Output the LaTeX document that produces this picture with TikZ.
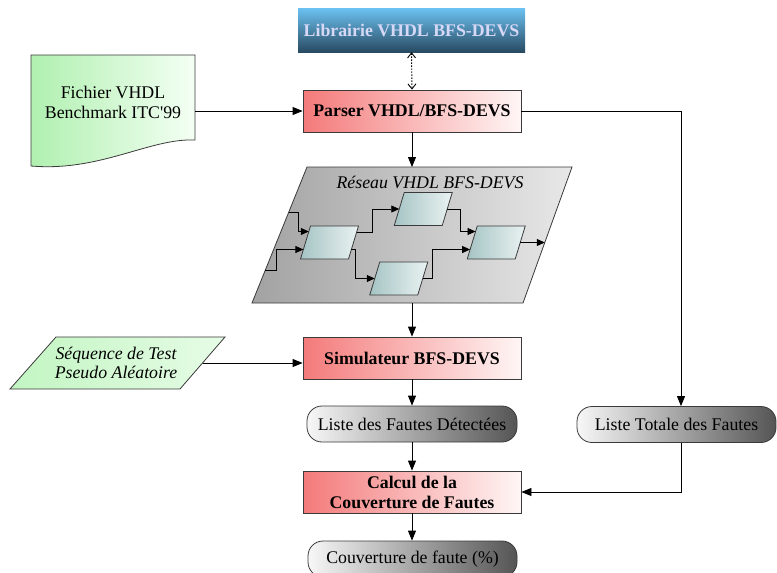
\documentclass[tikz,border=0pt]{standalone}
\usepackage{fontspec}
\setmainfont{Liberation Serif}
\usetikzlibrary{arrows.meta}

\definecolor{procL}{HTML}{F47A7A}
\definecolor{procR}{HTML}{FFF6F6}
\definecolor{pillL}{HTML}{F7F7F7}
\definecolor{pillR}{HTML}{555555}
\definecolor{netL}{HTML}{A2A2A2}
\definecolor{netR}{HTML}{E8E8E8}
\definecolor{cellL}{HTML}{A6C4C4}
\definecolor{cellR}{HTML}{EAF2F2}
\definecolor{grnL}{HTML}{B0F0B0}
\definecolor{grnR}{HTML}{F4FFF4}
\definecolor{seqL}{HTML}{C2F5C2}
\definecolor{seqR}{HTML}{E6FCE6}
\definecolor{libT}{HTML}{6CC2F2}
\definecolor{libB}{HTML}{284A62}
\definecolor{libTxt}{HTML}{D6D8F6}
\definecolor{edge}{HTML}{3A3A3A}

\begin{document}
\begin{tikzpicture}[x=1pt,y=-1pt,
  every node/.style={font=\fontsize{17.8}{20}\selectfont},
  proc/.style={draw=edge, line width=0.8pt, left color=procL, right color=procR,
    minimum width=218pt, minimum height=42pt, inner sep=0pt, align=center,
    font=\fontsize{17.8}{20}\selectfont\bfseries},
  pill/.style={draw=edge, line width=0.8pt, left color=pillL, right color=pillR,
    rounded corners=15pt, minimum height=36pt, inner sep=0pt},
  shapeline/.style={draw=edge, line width=0.8pt},
  arr/.style={line width=0.8pt, -{Triangle[length=10pt,width=8pt]}},
  netarr/.style={line width=0.8pt, -{Triangle[length=8pt,width=7pt]}},
  cell/.pic={
    \path[shapeline, left color=cellL, right color=cellR]
      (-19,-16.5) -- (29,-16.5) -- (19,16.5) -- (-29,16.5) -- cycle;
    \coordinate (-w) at (-24,0);
    \coordinate (-wn) at (-20.7,-11);
    \coordinate (-ws) at (-26.1,7);
    \coordinate (-e) at (24,0);
    \coordinate (-en) at (27,-10);
    \coordinate (-es) at (21.9,7);
  }]
\useasboundingbox (0,0) rectangle (777,573);

% library banner
\node[minimum width=227pt, minimum height=44pt, inner sep=0pt,
  top color=libT, bottom color=libB, text=libTxt,
  font=\fontsize{17.8}{20}\selectfont\bfseries] (lib) at (411.5,30) {Librairie VHDL BFS-DEVS};

% processing steps
\node[proc] (parser) at (412,111) {Parser VHDL/BFS-DEVS};
\node[proc] (sim) at (412,358) {Simulateur BFS-DEVS};
\node[proc] (calc) at (412,492) {Calcul de la\\Couverture de Fautes};

% results
\node[pill, minimum width=210pt] (det) at (412,424) {Liste des Fautes Détectées};
\node[pill, minimum width=199pt] (tot) at (676.5,424.5) {Liste Totale des Fautes};
\node[pill, minimum width=209pt] (cov) at (412.5,559) {Couverture de faute (\%)};

% VHDL benchmark file (document shape)
\path[shapeline, left color=grnL, right color=grnR]
  (31,55) -- (195,55) -- (195,140) .. controls (150,138) and (100,172) .. (31,166) -- cycle;
\node[align=center] (fich) at (113,102) {Fichier VHDL\\Benchmark ITC\textquotesingle 99};
\coordinate (fichR) at (195,111);

% pseudo-random test sequence (data shape)
\path[shapeline, left color=seqL, right color=seqR]
  (56,337) -- (225,337) -- (180,389) -- (10,389) -- cycle;
\node[align=center, font=\fontsize{17.8}{18.5}\selectfont\itshape] (seq) at (116,363)
  {Séquence de Test\\Pseudo Aléatoire};
\coordinate (seqOut) at (202.5,363);

% VHDL BFS-DEVS network
\path[shapeline, left color=netL, right color=netR]
  (307,167) -- (572,167) -- (523,303) -- (252,303) -- cycle;
\coordinate (netN) at (412,167);
\coordinate (netS) at (412,303);
\coordinate (netIn1) at (288.8,212);
\coordinate (netIn2) at (265.3,270);
\coordinate (netOut) at (544.8,242.5);
\node[font=\fontsize{17.8}{20}\selectfont\itshape] (netTitle) at (430,182) {Réseau VHDL BFS-DEVS};

\pic (A) at (329.5,242.5) {cell};
\pic (B) at (423.25,209) {cell};
\pic (C) at (398.75,278.5) {cell};
\pic (D) at (496.25,242.5) {cell};

\draw[netarr] (netIn1) -- ++(9.5,0) |- (A-wn);
\draw[netarr] (netIn2) -- ++(11,0) |- (A-ws);
\draw[netarr] (A-en) -- ++(15.5,0) |- (B-w);
\draw[netarr] (A-es) -- ++(4,0) |- (C-w);
\draw[netarr] (B-e) -- ++(13,0) |- (D-wn);
\draw[netarr] (C-e) -- ++(10,0) |- (D-ws);
\draw[netarr] (D-e) -- (netOut);

% flow connectors
\draw[dash pattern=on 1.5pt off 1.5pt, line width=0.9pt,
  {Straight Barb[length=5pt,width=8pt]}-{Straight Barb[length=5pt,width=8pt]}]
  (lib.south) -- (parser.north);
\draw[arr] (fichR) -- (parser.west);
\draw[arr] (parser.south) -- (netN);
\coordinate (tk) at (681,0);
\draw[arr] (parser.east) -| (tot.north -| tk);
\draw[arr] (netS) -- (sim.north);
\draw[arr] (seqOut) -- (seqOut -| sim.west);
\draw[arr] (sim.south) -- (det.north);
\draw[arr] (det.south) -- (calc.north);
\draw[arr] (tot.south -| tk) |- (calc.east);
\draw[arr] (calc.south) -- (calc.south |- cov.north);
\end{tikzpicture}
\end{document}
